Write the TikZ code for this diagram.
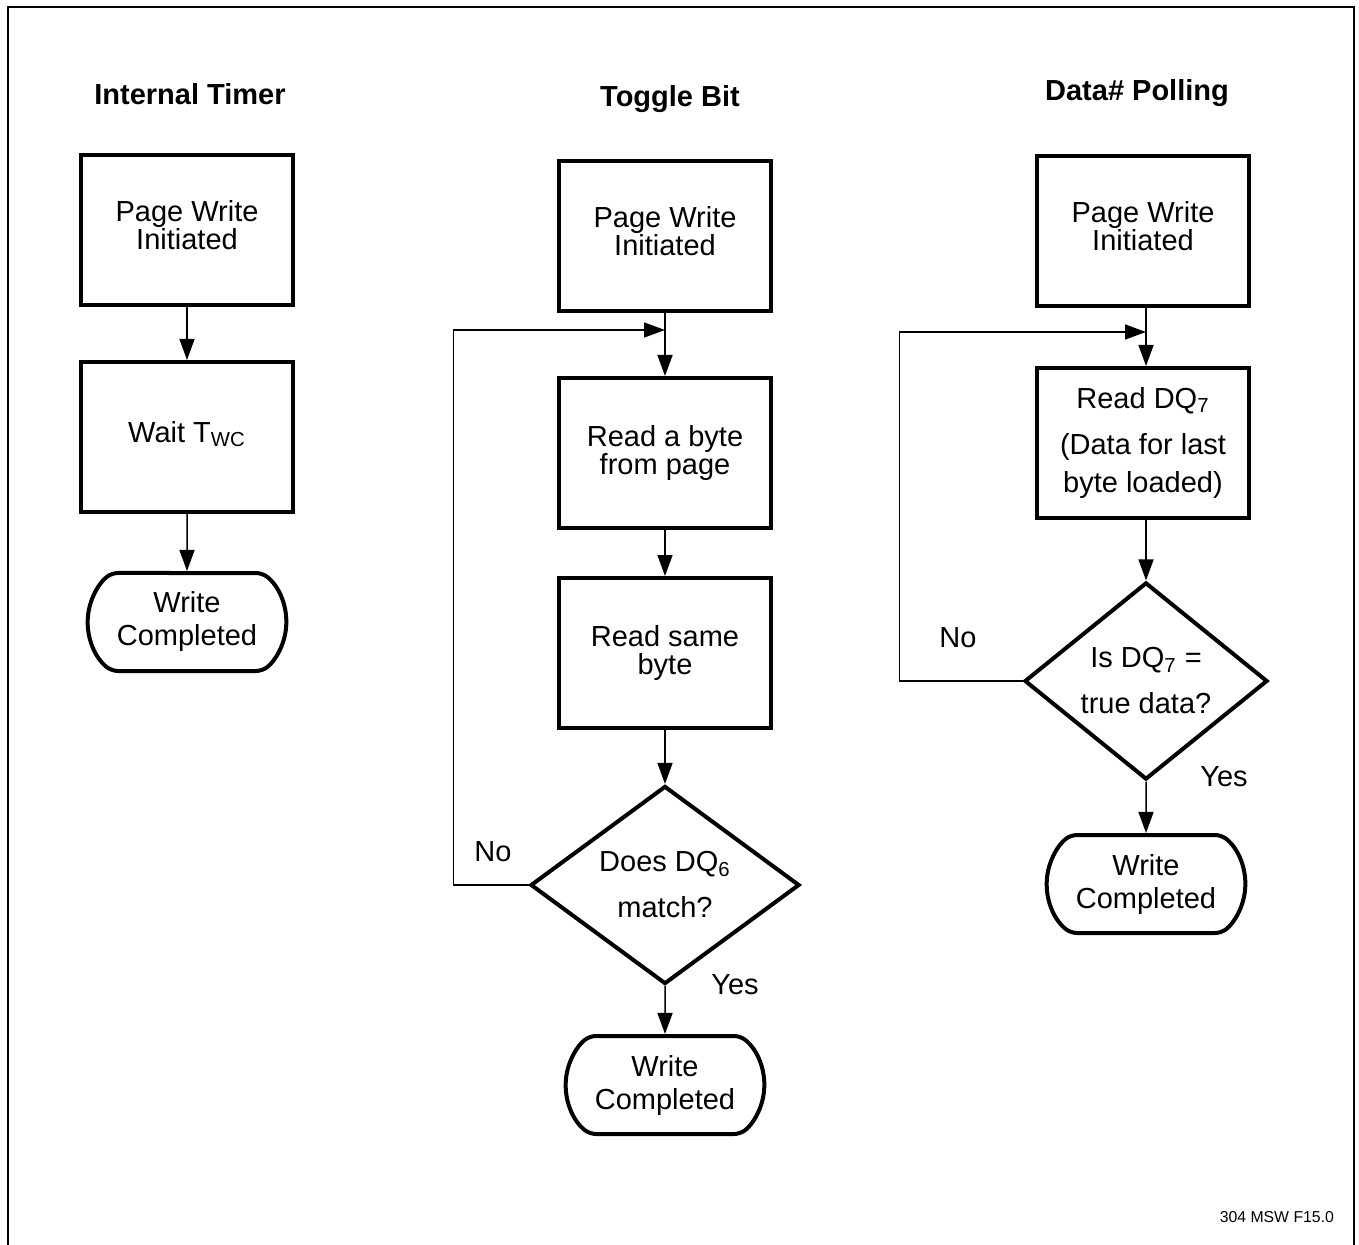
\documentclass[tikz,border=0pt]{standalone}
\usepackage{fontspec}
\setmainfont{Liberation Sans}
\usetikzlibrary{arrows.meta, shapes.geometric, shapes.misc}

\begin{document}
\begin{tikzpicture}[
            x=0.5pt, y=-0.5pt,
            box/.style={rectangle, draw, line width=2pt, minimum width=106pt, minimum height=75pt, align=center},
            term/.style={rounded rectangle, rounded rectangle arc length=105, draw, line width=2pt, rounded corners=3pt, minimum width=106pt, minimum height=49pt, align=center},
            test/.style={diamond, draw, line width=2pt, inner sep=0pt, align=center},
            arr/.style={-{Triangle[length=10.5pt, width=7.5pt]}, line width=0.75pt},
            head/.style={font={\fontsize{14.5}{14}\selectfont\bfseries}, anchor=base},
            font={\fontsize{14.5}{14}\selectfont}
        ]
        \useasboundingbox (0,0) rectangle (1359,1245);
        \draw[line width=1pt] (8,1260) |- (1354,7) -- (1354,1260);

        % Internal Timer
        \node[head] (ithead) at (190,105) {Internal Timer};
        \node[box] (itstart) at (187,230) {Page Write\\Initiated\\[-9pt]};
        \node[box] (itwait) at (187,437) {Wait T\textsubscript{WC}\\[-9pt]};
        \node[term] (itdone) at (187,622) {Write\\[2.5pt]Completed};
        \draw[arr] (itstart) -- (itwait);
        \draw[arr] (itwait) -- (itdone);

        % Toggle Bit
        \node[head] (tbhead) at (670,107) {Toggle Bit};
        \node[box] (tbstart) at (665,236) {Page Write\\Initiated\\[-9pt]};
        \node[box] (tbread) at (665,453) {Read a byte\\from page};
        \node[box] (tbsame) at (665,653) {Read same\\byte};
        \node[test, minimum width=134.5pt, minimum height=95pt] (tbtest) at (665,885) {Does DQ\textsubscript{6}\\[9pt]match?};
        \node[term] (tbdone) at (665,1085) {Write\\[2.5pt]Completed};
        \coordinate (tbjoin) at (665,330);
        \draw[line width=0.75pt] (tbstart) -- (tbjoin);
        \draw[arr] (tbjoin) -- (tbread);
        \draw[arr] (tbread) -- (tbsame);
        \draw[arr] (tbsame) -- (tbtest);
        \draw[arr] (tbtest) -- (tbdone);
        \draw[arr] (tbtest.west) -- ++(-75,0) |- (tbjoin);
        \node (tbno) at (493,852) {No};
        \node (tbyes) at (735,985) {Yes};

        % Data# Polling
        \node[head] (dphead) at (1137,101) {Data\# Polling};
        \node[box] (dpstart) at (1143,231) {Page Write\\Initiated\\[-9pt]};
        \node[box] (dpread) at (1143,443) {Read DQ\textsubscript{7}\\[9pt](Data for last\\[5pt]byte loaded)};
        \node[test, minimum width=121.5pt, minimum height=97pt] (dptest) at (1146,681) {Is DQ\textsubscript{7} =\\[9pt]true data?};
        \node[term] (dpdone) at (1146,884) {Write\\[2.5pt]Completed};
        \coordinate (dpjoin) at (1146,332);
        \draw[line width=0.75pt] (dpstart.south -| dpjoin) -- (dpjoin);
        \draw[arr] (dpjoin) -- (dpjoin |- dpread.north);
        \draw[arr] (dpread.south -| dptest) -- (dptest);
        \draw[arr] (dptest) -- (dpdone);
        \draw[arr] (dptest.west) -- ++(-123,0) |- (dpjoin);
        \node (dpno) at (958,638) {No};
        \node (dpyes) at (1224,777) {Yes};

        \node[anchor=east, font={\fontsize{7.9}{9}\selectfont}] (figno) at (1341,1217) {304 MSW F15.0};
    \end{tikzpicture}
\end{document}
